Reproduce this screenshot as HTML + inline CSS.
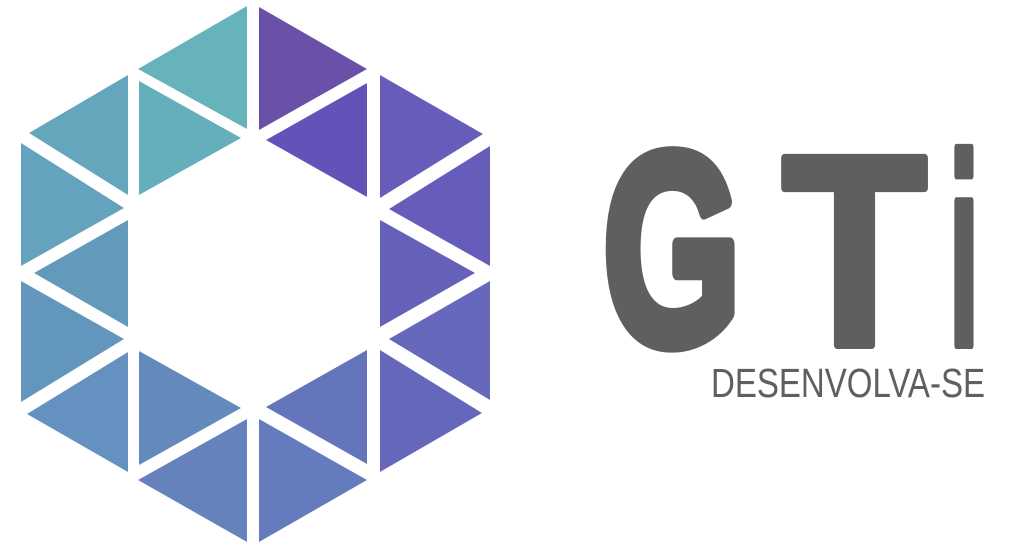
<!DOCTYPE html>
<html><head><meta charset="utf-8"><style>
html,body{margin:0;padding:0;background:#fff;width:1018px;height:550px;overflow:hidden}
svg{display:block}
</style></head><body>
<svg width="1018" height="550" viewBox="0 0 1018 550">
<g>
<polygon points="138,69 247,6 247,129" fill="#66b3bc"/>
<polygon points="139,81 241,138 139,195" fill="#65afbc"/>
<polygon points="259,7 367,69 259,130" fill="#6a50a8"/>
<polygon points="266,140 367,83 367,197" fill="#6552b8"/>
<polygon points="29,133 128,75 128,195" fill="#64a6bc"/>
<polygon points="21,143 124,208 21,266" fill="#64a2bd"/>
<polygon points="34,273 128,220 128,327" fill="#639abc"/>
<polygon points="380,75 483,134 380,198" fill="#665cb9"/>
<polygon points="389,209 490,146 490,266" fill="#665cb9"/>
<polygon points="380,220 475,273 380,327" fill="#6560b8"/>
<polygon points="21,281 124,339 21,402" fill="#6396bc"/>
<polygon points="27,414 128,352 128,472" fill="#6491bf"/>
<polygon points="139,351 241,408 139,465" fill="#6489bd"/>
<polygon points="138,480 247,419 247,542" fill="#6582bc"/>
<polygon points="259,419 367,480 259,542" fill="#647cbd"/>
<polygon points="266,407 367,350 367,464" fill="#6575bb"/>
<polygon points="389,339 490,281 490,400" fill="#6568bb"/>
<polygon points="380,350 482,413 380,472" fill="#6567bb"/>
</g>
<g fill="#5f5f5f" stroke="#5f5f5f" stroke-linejoin="round" font-family="'Liberation Sans', sans-serif" font-weight="bold" font-size="272">
<text x="603" y="343" stroke-width="14" textLength="138" lengthAdjust="spacingAndGlyphs">G</text>
<text x="782" y="345" stroke-width="8" textLength="145" lengthAdjust="spacingAndGlyphs">T</text>
<text x="948" y="345" stroke-width="8" textLength="32" lengthAdjust="spacingAndGlyphs">i</text>
</g>
<text x="711" y="397" font-family="'Liberation Sans', sans-serif" font-size="41" fill="#5f5f5f" textLength="274" lengthAdjust="spacingAndGlyphs">DESENVOLVA-SE</text>
</svg>
</body></html>
